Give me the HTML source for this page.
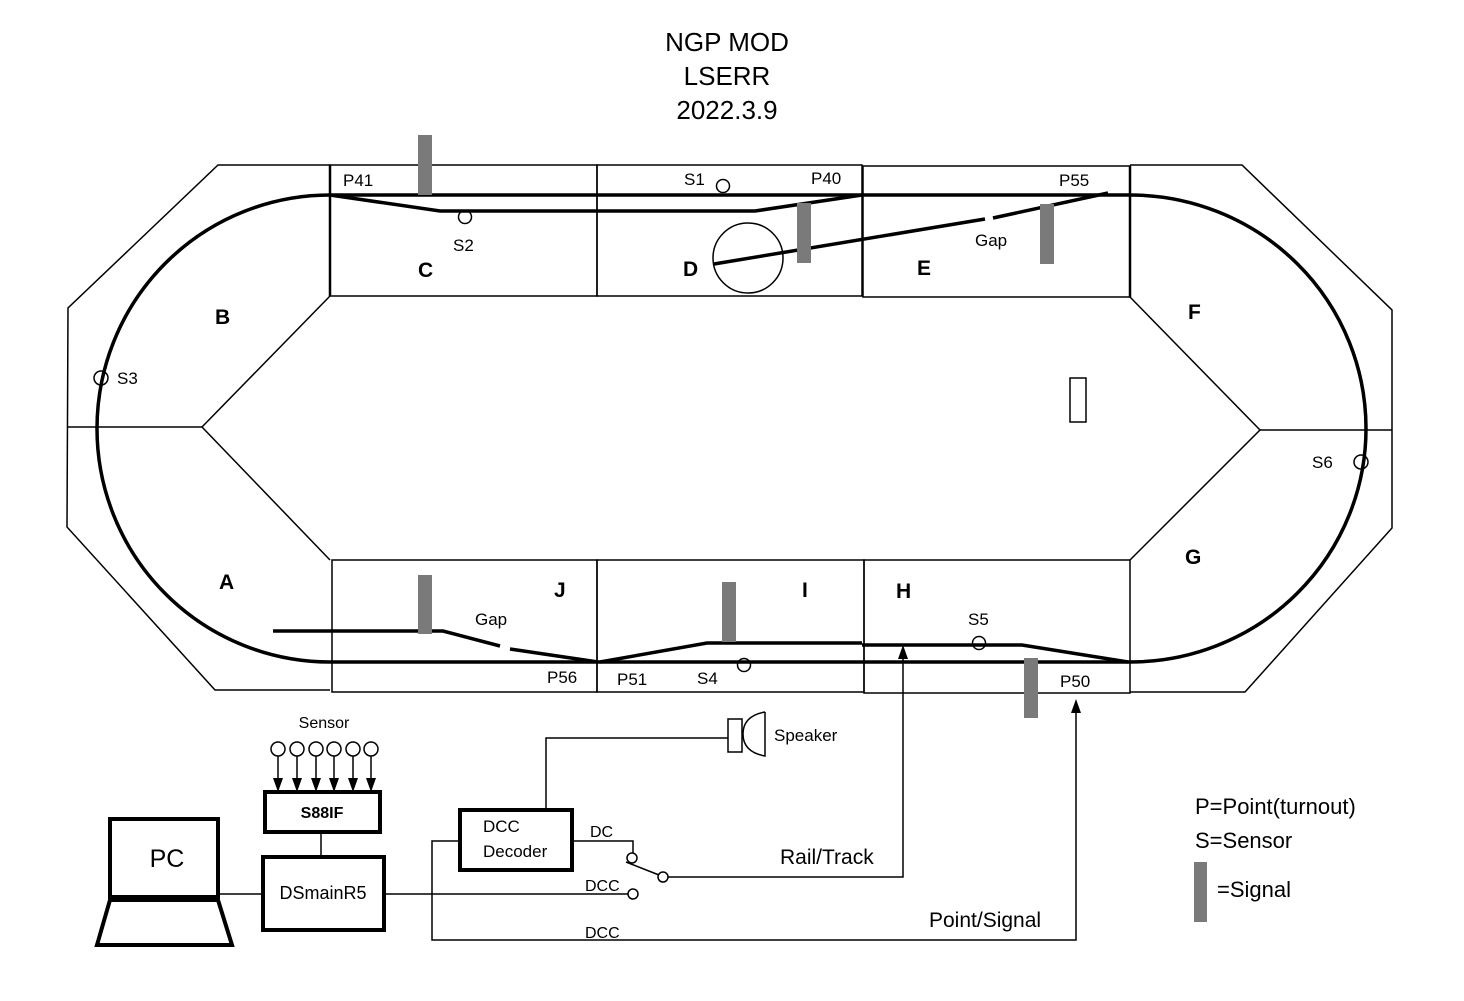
<!DOCTYPE html>
<html><head><meta charset="utf-8"><style>
html,body{margin:0;padding:0;background:#fff;}
svg{display:block;}
text{font-family:"Liberation Sans",Arial,sans-serif;fill:#000;}
</style></head><body>
<svg width="1464" height="1001" viewBox="0 0 1464 1001" xmlns="http://www.w3.org/2000/svg">
<!-- title -->
<text x="727" y="51" font-size="26" text-anchor="middle">NGP MOD</text>
<text x="727" y="85" font-size="26" text-anchor="middle">LSERR</text>
<text x="727" y="119" font-size="26" text-anchor="middle">2022.3.9</text>

<g fill="none" stroke="#000" stroke-width="1.5">
<path d="M330,165 L218,165 L68,308 L67,527 L215,690 L330,690"/>
<path d="M1130,165 L1242,165 L1392,310 L1392,528 L1245,692 L1130,692"/>
<line x1="67" y1="427" x2="202" y2="427"/>
<line x1="1260" y1="430" x2="1392" y2="430"/>
<path d="M330,296 L202,427 L330,560"/>
<path d="M1130,297 L1260,430 L1130,560"/>
<rect x="330" y="165" width="267" height="131"/>
<rect x="597" y="165" width="265" height="131"/>
<rect x="863" y="166" width="267" height="131"/>
<rect x="332" y="560" width="265" height="132"/>
<rect x="597" y="560" width="267" height="132"/>
<rect x="864" y="560" width="266" height="133"/>
<line x1="330" y1="165" x2="330" y2="296" stroke-width="2.5"/>
<line x1="1130" y1="166" x2="1130" y2="297" stroke-width="2.5"/>
<ellipse cx="748" cy="258" rx="35" ry="35"/>
<rect x="1070" y="378" width="16" height="44"/>
</g>

<g fill="none" stroke="#000" stroke-width="3.5">
<path d="M330,195 A233,233.5 0 0 0 330,662"/>
<path d="M1130,195 A236,233.5 0 0 1 1130,662"/>
<line x1="330" y1="195" x2="1130" y2="195"/>
<path d="M330,195 L440,211 L755,211 L862,195"/>
<line x1="1108" y1="193" x2="993" y2="218"/>
<line x1="985" y1="219" x2="714" y2="264"/>
<line x1="330" y1="662" x2="1130" y2="662"/>
<path d="M273,631 L443,631 L500,646"/>
<line x1="510" y1="649" x2="598" y2="662"/>
<path d="M600,662 L707,643 L862,643"/>
<path d="M862,645 L1022,645 L1128,662"/>
</g>

<g fill="#7a7a7a">
<rect x="418" y="135" width="14" height="60"/>
<rect x="797" y="203" width="14" height="60"/>
<rect x="1040" y="204" width="14" height="60"/>
<rect x="418" y="575" width="14" height="59"/>
<rect x="722" y="582" width="14" height="60"/>
<rect x="1024" y="658" width="14" height="60"/>
<rect x="1194" y="862" width="13" height="60"/>
</g>

<g fill="none" stroke="#000" stroke-width="1.5">
<circle cx="723" cy="186" r="6.5"/>
<circle cx="465" cy="217" r="6.5"/>
<circle cx="101" cy="378" r="7"/>
<circle cx="1361" cy="462" r="7"/>
<circle cx="744" cy="665" r="6.5"/>
<circle cx="979" cy="643" r="6.5"/>
</g>

<g font-size="17">
<text x="343" y="186">P41</text>
<text x="811" y="184">P40</text>
<text x="1059" y="186">P55</text>
<text x="684" y="185">S1</text>
<text x="453" y="251">S2</text>
<text x="975" y="246">Gap</text>
<text x="117" y="384">S3</text>
<text x="1312" y="468">S6</text>
<text x="475" y="625">Gap</text>
<text x="968" y="625">S5</text>
<text x="547" y="683">P56</text>
<text x="617" y="685">P51</text>
<text x="697" y="684">S4</text>
<text x="1060" y="687">P50</text>
</g>
<g font-size="21" font-weight="bold">
<text x="418" y="277">C</text>
<text x="683" y="276">D</text>
<text x="917" y="275">E</text>
<text x="215" y="324">B</text>
<text x="1188" y="319">F</text>
<text x="219" y="589">A</text>
<text x="1185" y="564">G</text>
<text x="554" y="597">J</text>
<text x="802" y="597">I</text>
<text x="896" y="598">H</text>
</g>

<g fill="none" stroke="#000">
<rect x="110" y="819" width="108" height="78" stroke-width="4"/>
<path d="M110,900 L218,900 L232,945 L97,945 Z" stroke-width="4"/>
<rect x="265" y="792" width="115" height="40" stroke-width="4"/>
<rect x="263" y="857" width="121" height="73" stroke-width="4"/>
<rect x="460" y="810" width="112" height="60" stroke-width="4"/>
<g stroke-width="1.5">
<line x1="321" y1="832" x2="321" y2="857"/>
<line x1="218" y1="894" x2="263" y2="894"/>
<line x1="384" y1="894" x2="628" y2="894"/>
<circle cx="633" cy="894" r="5"/>
<path d="M460,841 L432,841 L432,940 L1076,940 L1076,705"/>
<path d="M546,810 L546,738 L728,738"/>
<rect x="728" y="719" width="14" height="33"/>
<path d="M765,712 L765,756 Q743,752 743,734 Q743,716 765,712"/>
<path d="M572,841 L633,841 L633,853"/>
<circle cx="632" cy="858" r="5"/>
<line x1="626" y1="862" x2="659" y2="875"/>
<circle cx="663" cy="877" r="5"/>
<path d="M668,877 L903,877 L903,650"/>
<circle cx="278" cy="749" r="7"/><circle cx="297" cy="749" r="7"/><circle cx="316" cy="749" r="7"/>
<circle cx="334" cy="749" r="7"/><circle cx="353" cy="749" r="7"/><circle cx="371" cy="749" r="7"/>
<path d="M278,756 V780 M297,756 V780 M316,756 V780 M334,756 V780 M353,756 V780 M371,756 V780"/>
</g>
</g>
<g fill="#000">
<path d="M273,778 L283,778 L278,792Z"/><path d="M292,778 L302,778 L297,792Z"/><path d="M311,778 L321,778 L316,792Z"/>
<path d="M329,778 L339,778 L334,792Z"/><path d="M348,778 L358,778 L353,792Z"/><path d="M366,778 L376,778 L371,792Z"/>
<path d="M898,659 L908,659 L903,645Z"/>
<path d="M1071,713 L1081,713 L1076,699Z"/>
</g>
<text x="167" y="867" font-size="25" text-anchor="middle">PC</text>
<text x="322" y="818" font-size="16" font-weight="bold" text-anchor="middle">S88IF</text>
<text x="323" y="899" font-size="18" text-anchor="middle">DSmainR5</text>
<text x="324" y="728" font-size="16" text-anchor="middle">Sensor</text>
<text x="483" y="832" font-size="17">DCC</text>
<text x="483" y="857" font-size="17">Decoder</text>
<text x="590" y="837" font-size="16">DC</text>
<text x="585" y="891" font-size="16">DCC</text>
<text x="585" y="938" font-size="16">DCC</text>
<text x="774" y="741" font-size="17">Speaker</text>
<text x="780" y="864" font-size="21">Rail/Track</text>
<text x="929" y="927" font-size="21">Point/Signal</text>
<text x="1195" y="814" font-size="22">P=Point(turnout)</text>
<text x="1195" y="848" font-size="22">S=Sensor</text>
<text x="1217" y="897" font-size="22">=Signal</text>
</svg>
</body></html>
